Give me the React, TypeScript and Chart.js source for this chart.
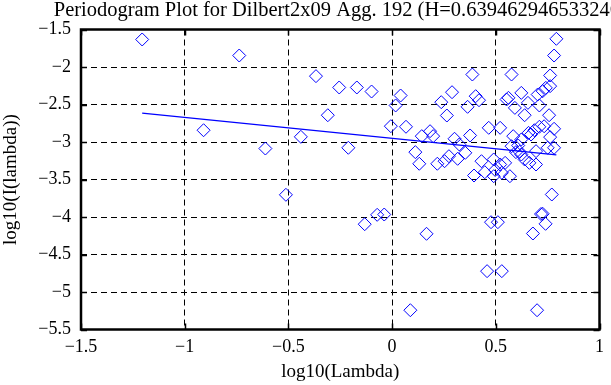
import React, { useEffect, useRef } from "react";
import { Chart, registerables } from "chart.js";

Chart.register(...registerables);

const TITLE = "Periodogram Plot for Dilbert2x09 Agg. 192 (H=0.639462946533246)";
const X_LABEL = "log10(Lambda)";
const Y_LABEL = "log10(I(lambda))";

const X_MIN = -1.5;
const X_MAX = 1;
const Y_MIN = -5.5;
const Y_MAX = -1.5;
const STEP = 0.5;

const logLambda = [
  -1.205, -0.737, -0.909, -0.611, -0.512, -0.44, -0.367, -0.255, -0.17, -0.099,
  -0.31, -0.211, -0.132, -0.072, -0.038, 0.166, 0.088, 0.458, 0.529, 0.477,
  0.51, 0.77, 0.726, 0.718, 0.74, 0.679, 0.699, 0.041, 0.017, -0.006,
  0.067, 0.143, 0.183, 0.198, 0.112, 0.131, 0.218, 0.253, 0.274, 0.237,
  0.289, 0.264, 0.301, 0.324, 0.316, 0.353, 0.376, 0.364, 0.403, 0.419,
  0.387, 0.466, 0.521, 0.431, 0.395, 0.447, 0.49, 0.49, 0.529, 0.568,
  0.521, 0.545, 0.576, 0.561, 0.552, 0.623, 0.592, 0.655, 0.639, 0.71,
  0.757, 0.702, 0.726, 0.741, 0.762, 0.762, 0.781, 0.792, 0.584, 0.623,
  0.608, 0.597, 0.658, 0.67, 0.686, 0.71, 0.781, 0.762, 0.781, 0.75,
  0.694, 0.623, 0.639, 0.662, 0.694, 0.576, 0.733, 0.615, 0.497,
];

const logPower = [
  -1.633, -1.847, -2.843, -3.087, -3.704, -2.931, -2.122, -2.273, -2.273, -2.327,
  -2.643, -3.077, -4.096, -3.971, -3.967, -4.224, -5.243, -4.722, -4.722, -4.069,
  -4.069, -3.7, -3.957, -3.96, -4.091, -4.22, -5.243, -2.38, -2.513, -2.789,
  -2.797, -2.922, -2.856, -2.922, -3.135, -3.29, -3.29, -3.256, -3.189, -2.469,
  -2.336, -2.647, -2.957, -3.033, -3.224, -3.144, -2.913, -2.531, -2.389, -2.443,
  -2.1, -2.811, -2.811, -3.256, -3.447, -3.403, -3.233, -3.456, -3.411, -3.456,
  -3.3, -3.278, -2.1, -2.411, -2.433, -2.345, -2.545, -2.478, -2.643, -2.513,
  -2.643, -2.367, -2.322, -2.278, -2.255, -2.113, -1.847, -1.624, -2.922, -2.967,
  -3.047, -3.135, -2.878, -2.9, -2.843, -2.797, -2.824, -2.935, -3.077, -3.077,
  -3.122, -3.167, -3.233, -3.278, -3.3, -3.056, -2.79, -3.13, -3.373,
];

const fitX = [-1.205, 0.792];
const fitY = [-2.616, -3.173];

const SERIF = "'Liberation Serif', 'Times New Roman', serif";

function fmt(v: number): string {
  const r = Math.round(v * 10) / 10;
  if (r === 0) return "0";
  const s = String(Math.abs(r));
  return r < 0 ? "\u2212" + s : s;
}

const framePlugin = {
  id: "frame",
  afterDraw(chart: any) {
    const { ctx, chartArea } = chart;
    const { left, right, top, bottom } = chartArea;
    const xs = chart.scales.x;
    const ys = chart.scales.y;
    ctx.save();
    ctx.strokeStyle = "#000";
    ctx.setLineDash([]);
    ctx.lineWidth = 1.5;
    const tl = 6;
    for (let v = X_MIN; v <= X_MAX + 1e-9; v += STEP) {
      const px = Math.round(xs.getPixelForValue(v)) + 0.5;
      ctx.beginPath();
      ctx.moveTo(px, bottom);
      ctx.lineTo(px, bottom - tl);
      ctx.moveTo(px, top);
      ctx.lineTo(px, top + tl);
      ctx.stroke();
    }
    for (let v = Y_MIN; v <= Y_MAX + 1e-9; v += STEP) {
      const py = Math.round(ys.getPixelForValue(v)) + 0.5;
      ctx.beginPath();
      ctx.moveTo(left, py);
      ctx.lineTo(left + tl, py);
      ctx.moveTo(right, py);
      ctx.lineTo(right - tl, py);
      ctx.stroke();
    }
    ctx.lineWidth = 2.5;
    ctx.strokeRect(left, top, right - left, bottom - top);
    // title
    ctx.fillStyle = "#000";
    ctx.font = "20.5px " + SERIF;
    ctx.textAlign = "center";
    ctx.textBaseline = "middle";
    ctx.fillText(TITLE, (left + right) / 2, 11);
    ctx.restore();
  },
};

export default function App() {
  const ref = useRef<HTMLCanvasElement | null>(null);

  useEffect(() => {
    document.body.style.margin = "0";
    const canvas = ref.current;
    if (!canvas) return;
    const scatter = logLambda.map((x, i) => ({ x, y: logPower[i] }));
    const line = fitX.map((x, i) => ({ x, y: fitY[i] }));
    const chart = new Chart(canvas, {
      type: "scatter",
      data: {
        datasets: [
          {
            type: "line",
            data: line,
            borderColor: "#0000ff",
            borderWidth: 1.3,
            pointRadius: 0,
            fill: false,
            order: 0,
          } as any,
          {
            data: scatter,
            pointStyle: "rectRot",
            pointRadius: 6.5,
            pointBorderWidth: 1,
            pointBorderColor: "#0000ff",
            pointBackgroundColor: "rgba(0,0,0,0)",
            order: 1,
          },
        ],
      },
      options: {
        responsive: false,
        animation: false,
        events: [],
        layout: { padding: { top: 29.5, right: 3.5, left: 0, bottom: 0 } },
        plugins: {
          legend: { display: false },
          tooltip: { enabled: false },
          title: { display: false },
        },
        scales: {
          x: {
            type: "linear",
            min: X_MIN,
            max: X_MAX,
            afterFit: (s: any) => {
              s.height = 55.5;
            },
            ticks: {
              stepSize: STEP,
              color: "#000",
              padding: 7,
              font: { family: SERIF, size: 18 },
              callback: (v: any) => fmt(Number(v)),
              maxRotation: 0,
            },
            grid: { color: "#000", lineWidth: 1, drawTicks: false },
            border: { display: false, dash: [6, 4] },
            title: {
              display: true,
              text: X_LABEL,
              color: "#000",
              font: { family: SERIF, size: 19 },
              padding: { top: 0, bottom: 2 },
            },
          },
          y: {
            type: "linear",
            min: Y_MIN,
            max: Y_MAX,
            afterFit: (s: any) => {
              s.width = 81;
            },
            ticks: {
              stepSize: STEP,
              color: "#000",
              padding: 10,
              font: { family: SERIF, size: 18 },
              callback: (v: any) => fmt(Number(v)),
            },
            grid: { color: "#000", lineWidth: 1, drawTicks: false },
            border: { display: false, dash: [6, 4] },
            title: {
              display: true,
              text: Y_LABEL,
              color: "#000",
              font: { family: SERIF, size: 19 },
              padding: { top: 0, bottom: 0 },
            },
          },
        },
      } as any,
      plugins: [framePlugin],
    });
    return () => chart.destroy();
  }, []);

  return (
    <div style={{ width: 611, height: 385 }}>
      <canvas ref={ref} width={611} height={385} style={{ display: "block" }} />
    </div>
  );
}
